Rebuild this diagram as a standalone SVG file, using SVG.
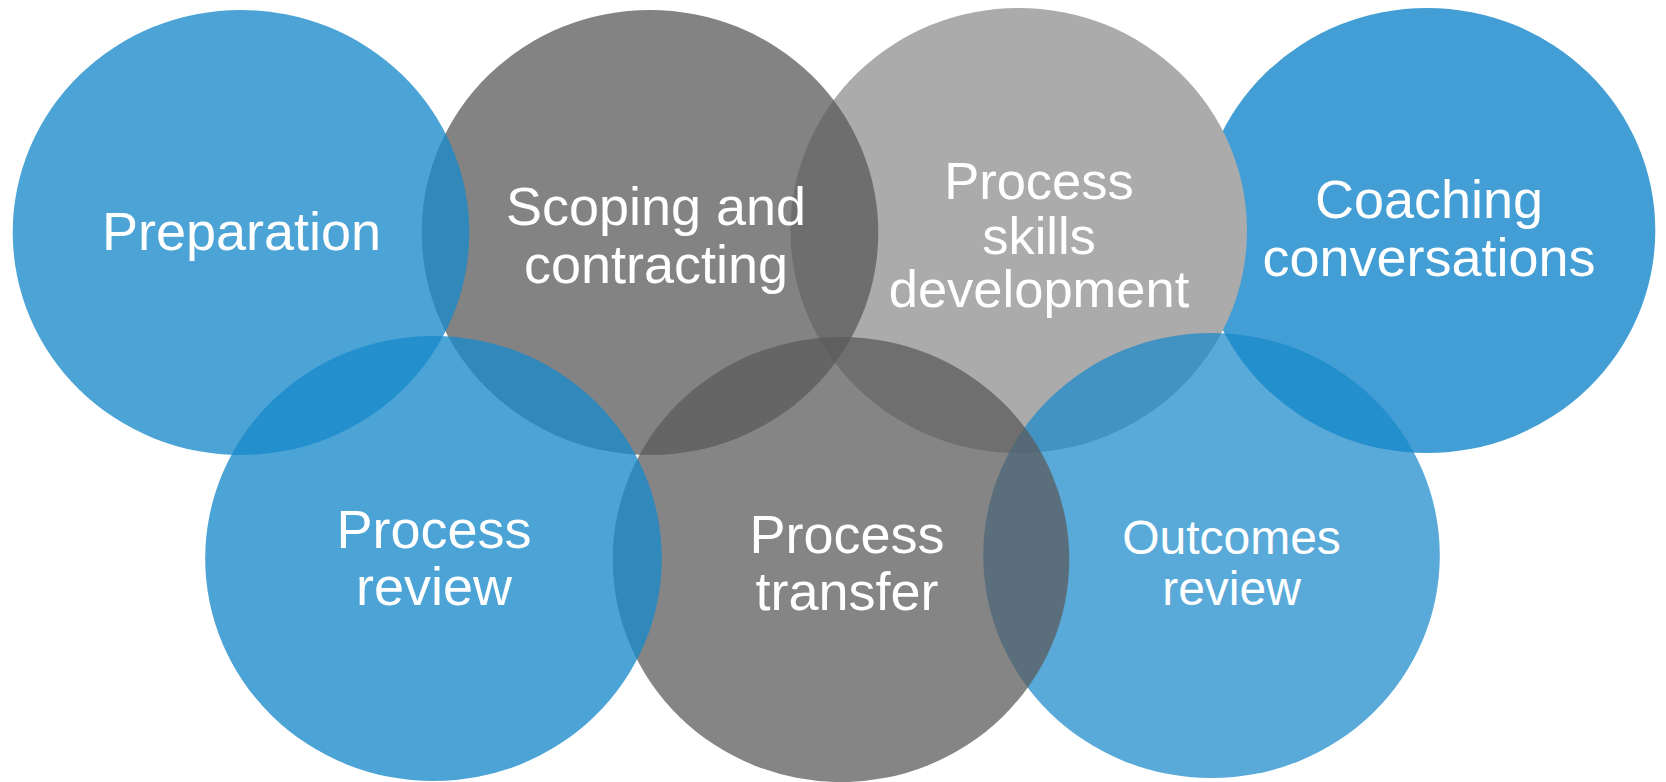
<svg xmlns="http://www.w3.org/2000/svg" width="1666" height="782" viewBox="0 0 1666 782">
  <style>
    .lbl { font-family: "Liberation Sans", Arial, sans-serif; font-size: 54px; fill: #FFFFFF; text-anchor: middle; }
    .sm { font-size: 48px; }
    .md { font-size: 52.5px; }
    .blue { fill: #1989CA; }
    .gray { fill: #5A5A5A; }
  </style>
  <rect width="1666" height="782" fill="#FFFFFF"/>
  <g id="coaching">
    <ellipse class="blue" cx="1427" cy="230.5" rx="228.3" ry="222.6" fill-opacity="0.82"/>
  </g>
  <g id="skills">
    <ellipse cx="1018.7" cy="230.5" rx="228.3" ry="222.6" fill="#ABABAB"/>
  </g>
  <g id="scoping">
    <ellipse class="gray" cx="650" cy="232.5" rx="228.3" ry="222.6" fill-opacity="0.75"/>
  </g>
  <g id="preparation">
    <ellipse class="blue" cx="241" cy="232.5" rx="228.3" ry="222.6" fill-opacity="0.78"/>
  </g>
  <g id="outcomes">
    <ellipse class="blue" cx="1211.5" cy="555.5" rx="228.3" ry="222.6" fill-opacity="0.72"/>
  </g>
  <g id="transfer">
    <ellipse class="gray" cx="841" cy="559.5" rx="228.3" ry="222.6" fill-opacity="0.74"/>
  </g>
  <g id="review">
    <ellipse class="blue" cx="433.5" cy="558.5" rx="228.3" ry="222.6" fill-opacity="0.78"/>
  </g>
  <g id="labels">
    <text class="lbl" x="241.5" y="250">Preparation</text>
    <text class="lbl" x="656" y="225">Scoping and</text>
    <text class="lbl" x="656" y="283">contracting</text>
    <text class="lbl md" x="1039" y="198.5">Process</text>
    <text class="lbl md" x="1039" y="253.5">skills</text>
    <text class="lbl md" x="1039" y="307">development</text>
    <text class="lbl" x="1429" y="218">Coaching</text>
    <text class="lbl" x="1429" y="276">conversations</text>
    <text class="lbl" x="434" y="547.5">Process</text>
    <text class="lbl" x="434" y="605">review</text>
    <text class="lbl" x="847" y="552.7">Process</text>
    <text class="lbl" x="847" y="610">transfer</text>
    <text class="lbl sm" x="1231.5" y="553.7">Outcomes</text>
    <text class="lbl sm" x="1231.5" y="604.5">review</text>
  </g>
  <g id="connectors"></g>
</svg>
